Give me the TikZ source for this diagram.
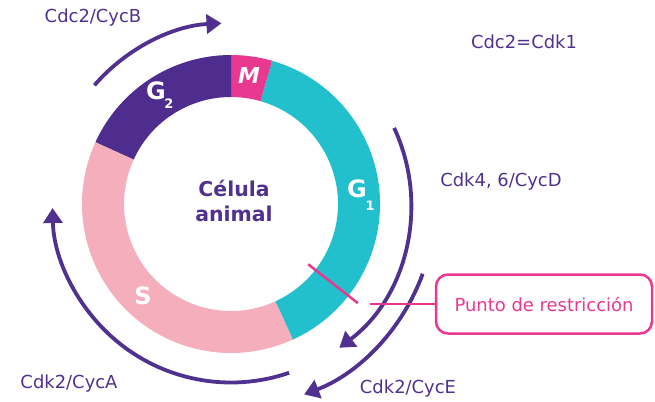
\documentclass[tikz,border=0pt]{standalone}
\usepackage{fontspec}
\setmainfont{DejaVu Sans}
\usetikzlibrary{arrows.meta}
\definecolor{cpurple}{HTML}{51318F}
\definecolor{cteal}{HTML}{22BFCC}
\definecolor{cmag}{HTML}{E8388F}
\definecolor{cpink}{HTML}{F5AEBB}
\definecolor{cdark}{HTML}{4F2D8F}
\tikzset{
  lbl/.style={text=cpurple,font=\fontsize{18}{21}\selectfont,inner sep=0pt},
  phase/.style={text=white,font=\bfseries\fontsize{24}{26}\selectfont,inner sep=0pt},
  phsub/.style={text=white,font=\bfseries\fontsize{13}{14}\selectfont,inner sep=0pt},
  cyc/.style={draw=cpurple,line width=3.8bp,-{Triangle[length=15bp,width=19bp]}},
}
\begin{document}
\begin{tikzpicture}[x=1bp,y=1bp]
\useasboundingbox (0,0) rectangle (655,401);
\coordinate (C) at (231,197);
\begin{scope}[shift={(C)}]
  % ring sectors
  \fill[cteal] (-65.5:149) arc (-65.5:74:149) -- (74:107) arc (74:-65.5:107) -- cycle;
  \fill[cmag] (74:149) arc (74:90:149) -- (90:107) arc (90:74:107) -- cycle;
  \fill[cdark] (90:149) arc (90:155.5:149) -- (155.5:107) arc (155.5:90:107) -- cycle;
  \fill[cpink] (155.5:149) arc (155.5:294.5:149) -- (294.5:107) arc (294.5:155.5:107) -- cycle;
  % cyclin arcs
  \draw[cyc] (139:181) arc (139:93:181);
  \draw[cyc] (25:180) arc (25:-53:180);
  \draw[cyc] (-20:204) arc (-20:-69:204);
  \draw[cyc] (-71:178.5) arc (-71:-178.7:178.5);
  % restriction tick
  \coordinate (t1) at (-38:98);
  \coordinate (t2) at (-38:161);
\end{scope}
\draw[cmag,line width=2.5bp] (t1) -- (t2);
% phase labels
\node[phase,font=\bfseries\itshape\fontsize{22}{24}\selectfont] (M) at (249,325) {M};
\node[phase] (G2) at (156,310) {G};
\node[phsub] (G2s) at (169,297) {2};
\node[phase] (G1) at (357,212) {G};
\node[phsub] (G1s) at (370,195) {1};
\node[phase] (S) at (143,105) {S};
% centre text
\node[text=cpurple,font=\bfseries\fontsize{20.5}{25}\selectfont,align=center,inner sep=0pt] (cell) at (234,200) {Célula\\animal};
% labels
\node[lbl] (lB) at (93,383) {Cdc2/CycB};
\node[lbl] (lK) at (524,359) {Cdc2=Cdk1};
\node[lbl] (lD) at (501,219) {Cdk4, 6/CycD};
\node[lbl] (lE) at (408,12) {Cdk2/CycE};
\node[lbl] (lA) at (69,17) {Cdk2/CycA};
% restriction box
\node[draw=cmag,line width=2.5bp,rounded corners=12bp,minimum width=216bp,minimum height=59bp,text=cmag,font=\fontsize{18}{21}\selectfont] (R) at (544,97) {Punto de restricción};
\coordinate (h) at (370,97);
\draw[cmag,line width=2.5bp] (h) -- (R.west);
\end{tikzpicture}
\end{document}
